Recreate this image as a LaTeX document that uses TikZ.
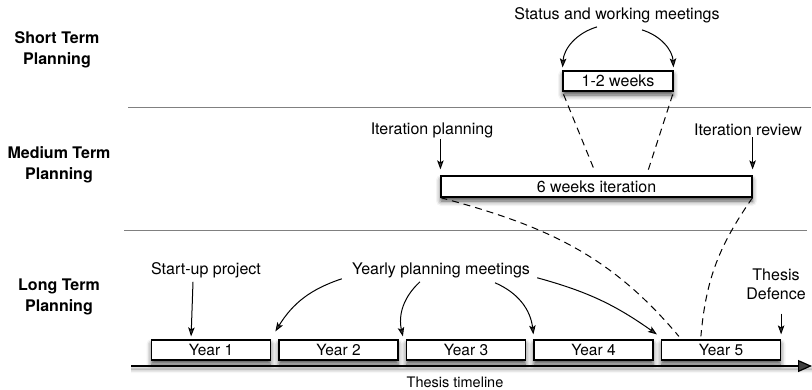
\documentclass[tikz,border=0pt]{standalone}
\usepackage{fontspec}
\setmainfont{TeX Gyre Heros}
\usetikzlibrary{arrows.meta,shadows.blur}

\begin{document}
\begin{tikzpicture}[x=1pt,y=1pt,font=\fontsize{16}{19}\selectfont]
  \tikzstyle{every node}=[inner sep=0pt]
  \tikzstyle{term}=[align=center,font=\fontsize{16}{21}\selectfont\bfseries]
  \tikzstyle{box}=[draw,line width=1.2pt,fill=white,minimum height=20pt,
    blur shadow={shadow xshift=0pt,shadow yshift=-4pt,shadow blur radius=5pt,shadow opacity=70}]
  \tikzstyle{small}=[font=\fontsize{15.5}{18}\selectfont]
  \tikzstyle{arr}=[-{Stealth[length=9pt,width=6.5pt,inset=2pt]},line width=1pt]
  \tikzstyle{dashline}=[line width=1pt,dash pattern=on 7pt off 5pt]
  \tikzstyle{sep}=[black!50,line width=1pt]
  \useasboundingbox (0,0) rectangle (812,-389);
  \node[term] (short) at (57,-50) {Short Term\\Planning};
  \node[term] (medium) at (59,-165) {Medium Term\\Planning};
  \node[term] (long) at (59,-297) {Long Term\\Planning};
  \draw[sep] (128,-107) -- (811,-107);
  \draw[sep] (124,-230) -- (807,-230);
  \coordinate (t0) at (131,-366);
  \coordinate (t1) at (812,-366);
  \draw[line width=1.2pt,-{Triangle[length=14pt,width=12pt]},
    blur shadow={shadow xshift=0pt,shadow yshift=-3pt,shadow blur radius=4pt,shadow opacity=50}] (t0) -- (t1);
  \node (status) at (617,-15) {Status and working meetings};
  \node[box,minimum width=110pt] (weeks) at (618,-81) {1-2 weeks};
  \node (itplan) at (432,-130) {Iteration planning};
  \node (itreview) at (748,-130) {Iteration review};
  \node[box,minimum width=311pt,minimum height=21pt] (iteration) at (596.5,-186.5) {6 weeks iteration};
  \foreach \i in {1,...,5}
    \node[box,small,minimum width=119pt] (year\i) at ({83.5+127.5*\i},-350) {Year \i};
  \node (startup) at (206,-270) {Start-up project};
  \node (yearly) at (441,-270) {Yearly planning meetings};
  \node[align=center] (defence) at (776,-284) {Thesis\\Defence};
  \node[font=\fontsize{14.5}{18}\selectfont] (timeline) at (455,-382) {Thesis timeline};
  \draw[arr,shorten >=3pt] ([xshift=-20pt,yshift=-4pt]status.south) to[bend right=35] (weeks.north west);
  \draw[arr,shorten >=3pt] ([xshift=25pt,yshift=-7pt]status.south) to[bend left=35] (weeks.north east);
  \draw[arr,shorten <=1pt,shorten >=6pt] (itplan.south -| iteration.north west) -- (iteration.north west);
  \draw[arr,shorten <=1pt,shorten >=6pt] (itreview.south -| iteration.north east) -- (iteration.north east);
  \draw[dashline,shorten <=3pt,shorten >=4pt] (weeks.south west) -- (iteration.north);
  \draw[dashline,shorten <=3pt,shorten >=4pt] (weeks.south east) -- ([xshift=50pt]iteration.north);
  \draw[dashline] (iteration.south west) to[out=-15,in=130] ([xshift=18pt,yshift=3pt]year5.north west);
  \draw[dashline] (iteration.south east) to[out=-125,in=85] ([xshift=40pt,yshift=3pt]year5.north west);
  \draw[arr,shorten >=3pt] ([xshift=-13pt,yshift=-4pt]startup.south) -- ([xshift=-20pt]year1.north);
  \draw[arr] ([xshift=-10pt,yshift=-1pt]yearly.south west) to[bend right=20] ([xshift=-3pt,yshift=8pt]year2.north west);
  \draw[arr] ([xshift=-21pt,yshift=-4pt]yearly.south) to[bend right=30] ([xshift=-3pt,yshift=3pt]year3.north west);
  \draw[arr] ([xshift=54pt,yshift=-5pt]yearly.south) to[bend left=30] ([yshift=5pt]year4.north west);
  \draw[arr] ([xshift=7pt]yearly.south east) to[bend left=10] ([xshift=-4pt,yshift=5pt]year5.north west);
  \draw[arr,shorten <=14pt,shorten >=5pt] (defence.south -| year5.north east) -- (year5.north east);
\end{tikzpicture}
\end{document}
